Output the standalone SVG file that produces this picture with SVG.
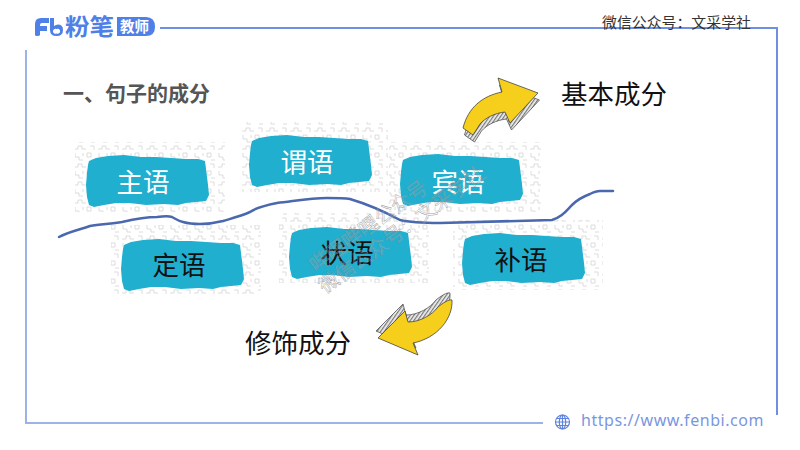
<svg xmlns="http://www.w3.org/2000/svg" width="800" height="450" viewBox="0 0 800 450">
<style>
.cjk{font-family:"Noto Sans CJK SC","Noto Sans",sans-serif}
.lbl{font-size:26.500px;text-anchor:middle}
.w{fill:#fff}
.k{fill:#111}
.tex{fill:url(#maze)}
.brush{fill:#20afcf}
.arrowY{fill:#f6cf1c;stroke:#444;stroke-width:.8;stroke-linejoin:round}
.arrowS{fill:url(#hatch);stroke:#555;stroke-width:.8;stroke-linejoin:round}
.frame{stroke:#6f8fe3;stroke-width:2;fill:none}
.wm{font-size:20px;fill:#fff;fill-opacity:.15;stroke:#858a8d;stroke-width:.45;stroke-opacity:.85}
</style>
<defs>
<pattern id="maze" width="24" height="18" patternUnits="userSpaceOnUse">
<path d="M2 5H6V2H10V5H14M18 2H22V6M3 9V13H7V16H11M15 9H19V13H15ZM11 9V12M19 16H23" fill="none" stroke="#dcdcdc" stroke-width="1"/>
</pattern>
<pattern id="hatch" width="3" height="3" patternUnits="userSpaceOnUse" patternTransform="rotate(35)">
<rect width="3" height="3" fill="#eee"/><rect width="1.2" height="3" fill="#777"/>
</pattern>
<path id="br" d="M3 6L10 3L22 1L38 0L55 2L70 2L85 3L100 4L112 4L119 6L120 14L121 22L122 30L123 40L120 46L110 47L100 48L92 50L78 49L60 50L44 48L30 48L18 50L8 52L3 50L1 42L0 30L1 18L2 10Z"/>
</defs>
<rect width="800" height="450" fill="#fff"/>

<g id="frame">
<path class="frame" d="M160 28H777V415"/>
<path class="frame" d="M26 50V423H543" style="stroke:#9db3e6"/>
</g>

<g id="logo">
<path d="M35 35V24Q35 18 41 18H49V23H42Q40 23 40 25V26H47V31H40V35Q40 36 37 36Q35 36 35 35Z" fill="#4f80e8"/>
<path d="M50 18H54V26Q56 24.500 58 24.500Q63 24.500 63 30Q63 36 56.500 36Q50 36 50 30Z M56.500 29A2.500 2.500 0 1 0 56.600 33.500A2.500 2.500 0 1 0 56.500 29Z" fill="#4f80e8" fill-rule="evenodd"/>
<text x="65" y="35" class="cjk" font-size="23" font-weight="700" fill="#4f80e8" textLength="49" lengthAdjust="spacingAndGlyphs">粉笔</text>
<path d="M117 17H146Q155 17 155 27Q155 36 146 36H117Z" fill="#4f80e8"/>
<text x="120" y="32" class="cjk" font-size="14.500" font-weight="700" fill="#fff">教师</text>
</g>

<text id="wechat" x="602" y="28" class="cjk" font-size="14.900" fill="#333">微信公众号：文采学社</text>
<text id="title" x="63" y="101" class="cjk" font-size="21" font-weight="700" fill="#555">一、句子的成分</text>

<g id="node-zhuyu"><rect class="tex" x="75" y="142" width="150" height="70"/><use href="#br" class="brush" x="86" y="155"/><text x="143" y="192" class="cjk lbl w">主语</text></g>
<g id="node-weiyu"><rect class="tex" x="239" y="122" width="149" height="70"/><use href="#br" class="brush" x="249" y="135"/><text x="307" y="172" class="cjk lbl w">谓语</text></g>
<g id="node-binyu"><rect class="tex" x="389" y="142" width="152" height="70"/><use href="#br" class="brush" x="400" y="154"/><text x="458" y="192" class="cjk lbl w">宾语</text></g>
<g id="node-dingyu"><rect class="tex" x="111" y="225" width="150" height="70"/><use href="#br" class="brush" x="121" y="239"/><text x="179" y="275" class="cjk lbl k">定语</text></g>
<g id="node-zhuangyu"><rect class="tex" x="279" y="213" width="150" height="70"/><use href="#br" class="brush" x="289" y="227"/><text x="347" y="263" class="cjk lbl k">状语</text></g>
<g id="node-buyu"><rect class="tex" x="453" y="220" width="150" height="70"/><use href="#br" class="brush" x="462" y="233"/><text x="521" y="270" class="cjk lbl k">补语</text></g>

<g id="connectors">
<path d="M59 237C68 232 78 230 90 226C100 224 110 224 122 222C135 219 146 217 157 217C165 216 169 216 172 217C176 219 178 221 183 222C190 224 194 224 200 224C208 224 215 223 223 221C233 218 241 216 250 212C257 207 267 205 277 203C295 201 310 198 327 198C337 198 344 198 350 199C367 204 385 212 400 220C412 223 425 223 440 223L552 220C562 217 566 211 572 205C578 199 582 197 590 194C594 192 596 191 600 191H613" fill="none" stroke="#4a68ae" stroke-width="2.500" stroke-linecap="round"/>
</g>

<g id="arrow-up">
<path class="arrowS" transform="translate(1.500 7)" d="M498 78L538 93L510 123L505 112C495 113 485 118 480 124L473 135L463 128C468 108 482 96 502 92Z"/>
<path class="arrowY" d="M498 78L538 93L510 123L505 112C495 113 485 118 480 124L473 135L463 128C468 108 482 96 502 92Z"/>
</g>
<g id="arrow-down">
<path class="arrowS" transform="translate(-2 -7)" d="M378 338L405 311L408 322C420 322 432 315 438 307C443 303 449 299 452 300C453 318 438 338 413 343L418 355Z"/>
<path class="arrowY" d="M378 338L405 311L408 322C420 322 432 315 438 307C443 303 449 299 452 300C453 318 438 338 413 343L418 355Z"/>
</g>

<text id="label-basic" x="561" y="104" class="cjk" font-size="26.500" fill="#111">基本成分</text>
<text id="label-modifier" x="245" y="353" class="cjk" font-size="26.500" fill="#111">修饰成分</text>

<g id="watermark" class="cjk">
<text class="wm" transform="translate(325 294) rotate(-36)">微信公众号：文采学社</text>
<text class="wm" transform="translate(316 273) rotate(-36)">哔哩哔哩公众号</text>
</g>

<g id="footer">
<g fill="none" stroke="#5f83dc" stroke-width="1.200">
<circle cx="562.500" cy="422" r="7"/><ellipse cx="562.500" cy="422" rx="3.200" ry="7"/><path d="M555.500 422H569.500M556.500 418.500H568.500M556.500 425.500H568.500M562.500 415V429"/>
</g>
<text x="581" y="426" font-family="'Noto Sans',sans-serif" font-size="16" letter-spacing=".55" fill="#7b96e0">https://www.fenbi.com</text>
</g>
</svg>
